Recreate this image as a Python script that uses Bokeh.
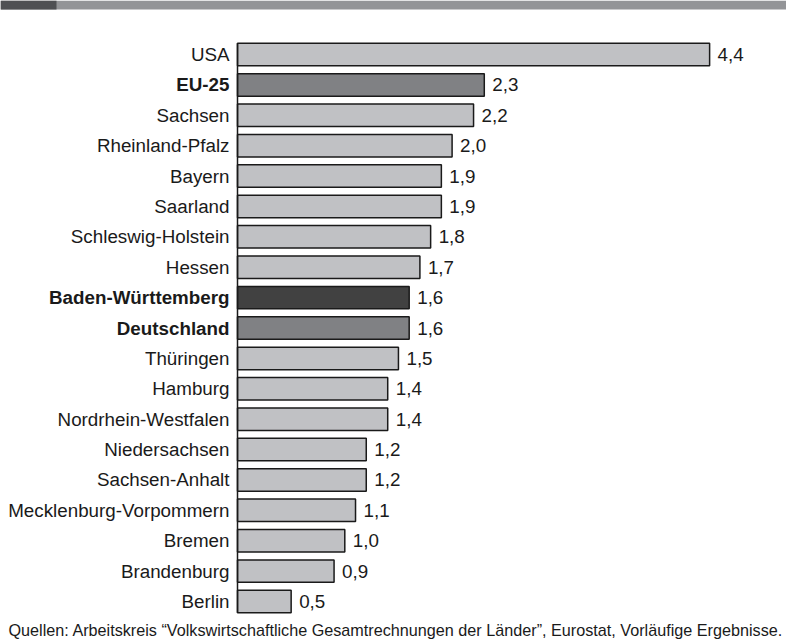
from bokeh.plotting import figure
from bokeh.models import Range1d, ColumnDataSource, BoxAnnotation, Label
from bokeh.core.properties import value
from bokeh.embed import file_html
from bokeh.resources import INLINE

categories = ["USA", "EU-25", "Sachsen", "Rheinland-Pfalz", "Bayern", "Saarland",
              "Schleswig-Holstein", "Hessen", "Baden-Württemberg", "Deutschland",
              "Thüringen", "Hamburg", "Nordrhein-Westfalen", "Niedersachsen",
              "Sachsen-Anhalt", "Mecklenburg-Vorpommern", "Bremen", "Brandenburg", "Berlin"]
values = [4.4, 2.3, 2.2, 2.0, 1.9, 1.9, 1.8, 1.7, 1.6, 1.6, 1.5, 1.4, 1.4, 1.2, 1.2, 1.1, 1.0, 0.9, 0.5]
bold = ["EU-25", "Baden-Württemberg", "Deutschland"]
source_note = "Quellen: Arbeitskreis \u201cVolkswirtschaftliche Gesamtrechnungen der L\u00e4nder\u201d, Eurostat, Vorl\u00e4ufige Ergebnisse."

W, H = 786, 641
X0_PX, PX_PER_UNIT = 237.0, 107.3
Y0_PX, ROW_PX = 54.0, 30.39

light, mid, dark = "#c0c1c4", "#808184", "#414141"
colors = []
for c in categories:
    if c == "Baden-Württemberg":
        colors.append(dark)
    elif c in ("EU-25", "Deutschland"):
        colors.append(mid)
    else:
        colors.append(light)

idx = list(range(len(categories)))
src = ColumnDataSource(dict(
    y=idx, v=values, cat=categories, color=colors,
    vlabel=[f"{v:.1f}".replace(".", ",") for v in values],
    style=["bold" if c in bold else "normal" for c in categories],
))

x_start = -X0_PX / PX_PER_UNIT
x_end = (W - X0_PX) / PX_PER_UNIT
y_top = -Y0_PX / ROW_PX
y_bot = (H - Y0_PX) / ROW_PX

p = figure(width=W, height=H, output_backend="svg", toolbar_location=None,
           x_range=Range1d(x_start, x_end), y_range=Range1d(y_bot, y_top),
           min_border=0, outline_line_color=None)
p.axis.visible = False
p.grid.visible = False
p.background_fill_color = "white"
p.border_fill_color = "white"

# top decorative stripe
stripe_h = 9 / ROW_PX
p.add_layout(BoxAnnotation(left=x_start, right=x_end, top=y_top, bottom=y_top + stripe_h,
                           fill_color="#939497", fill_alpha=1, line_color=None))
p.add_layout(BoxAnnotation(left=x_start, right=x_start + 56 / PX_PER_UNIT, top=y_top,
                           bottom=y_top + stripe_h, fill_color="#4f5053", fill_alpha=1, line_color=None))

bh = 0.74
p.hbar(y="y", right="v", left=0, height=bh, source=src, fill_color="color",
       line_color="#1a1a1a", line_width=1.5)

# axis line
p.segment(x0=[0], x1=[0], y0=[-bh / 2], y1=[len(categories) - 1 + bh / 2],
          line_color="#1a1a1a", line_width=1.5)

p.text(x=-8 / PX_PER_UNIT, y="y", text="cat", source=src, text_align="right",
       text_baseline="middle", text_font=value("Liberation Sans"), text_font_size="18.8px",
       text_font_style="style", text_color="#1a1a1a")
p.text(x="v", y="y", text="vlabel", source=src, x_offset=8, text_align="left",
       text_baseline="middle", text_font=value("Liberation Sans"), text_font_size="18.8px",
       text_color="#1a1a1a")

p.add_layout(Label(x=8, y=3, x_units="screen", y_units="screen", text=source_note,
                   text_font="Liberation Sans", text_font_size="16.2px", text_color="#1a1a1a"))

open("out.html", "w").write(file_html(p, INLINE))
